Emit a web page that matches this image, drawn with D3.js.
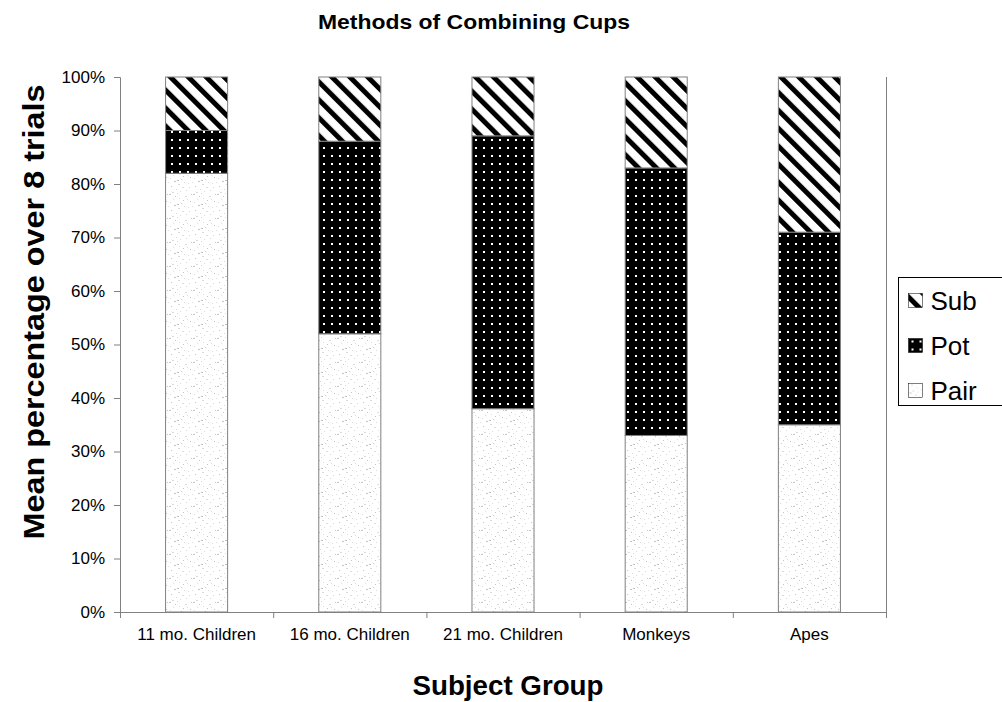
<!DOCTYPE html>
<html>
<head>
<meta charset="utf-8">
<script src="https://cdn.jsdelivr.net/npm/d3@7"></script>
<style>
  body { margin: 0; background: #fff; }
  svg { font-family: "Liberation Sans", Arial, sans-serif; }
</style>
</head>
<body>
<script>
// data (percent of trials)
var groups = ["11 mo. Children", "16 mo. Children", "21 mo. Children", "Monkeys", "Apes"];
var pair = [82, 52, 38, 33, 35];
var pot  = [8, 36, 51, 50, 36];
var sub  = [10, 12, 11, 17, 29];
var keys = ["Pair", "Pot", "Sub"];
var yTicks = [0, 10, 20, 30, 40, 50, 60, 70, 80, 90, 100];

var width = 1002, height = 702;
var plotLeft = 120, plotRight = 886, plotTop = 77, plotBottom = 612;

var svg = d3.select("body").append("svg").attr("width", width).attr("height", height);
var defs = svg.append("defs");

// Sub: diagonal black stripes
var pSub = defs.append("pattern").attr("id", "pSub").attr("patternUnits", "userSpaceOnUse")
  .attr("width", 12.7).attr("height", 12.7).attr("patternTransform", "rotate(-45)");
pSub.append("rect").attr("width", 12.7).attr("height", 12.7).attr("fill", "#fff");
pSub.append("rect").attr("width", 5).attr("height", 12.7).attr("fill", "#000");

// Pot: black with white dots
var pPot = defs.append("pattern").attr("id", "pPot").attr("patternUnits", "userSpaceOnUse")
  .attr("width", 8).attr("height", 8);
pPot.append("rect").attr("width", 8).attr("height", 8).attr("fill", "#000");
pPot.append("rect").attr("x", 3).attr("y", 3).attr("width", 2).attr("height", 2).attr("fill", "#fff");

// Pair: light grey speckle
var specks = [[1,2],[5,7],[9,1],[13,11],[17,4],[20,15],[3,18],[8,21],[14,19],[22,9],
              [11,6],[18,22],[6,13],[2,10],[16,14],[23,2],[10,16],[19,7],[7,4],[12,23],
              [4,0],[15,8],[21,19],[0,14],[9,12]];
var pPair = defs.append("pattern").attr("id", "pPair").attr("patternUnits", "userSpaceOnUse")
  .attr("width", 24).attr("height", 24);
pPair.append("rect").attr("width", 24).attr("height", 24).attr("fill", "#fff");
pPair.selectAll(".s").data(specks).enter().append("rect")
  .attr("x", function (d) { return d[0]; })
  .attr("y", function (d) { return d[1]; })
  .attr("width", function (d, i) { return i % 4 ? 1 : 2; }).attr("height", 1)
  .attr("fill", function (d, i) { return i % 3 ? "#dcdcdc" : "#c4c4c4"; });

var fills = { Pair: "url(#pPair)", Pot: "url(#pPot)", Sub: "url(#pSub)" };

var x = d3.scaleBand().domain(groups).range([plotLeft, plotRight]).paddingInner(0.595).paddingOuter(0.2975);
var y = d3.scaleLinear().domain([0, 100]).range([plotBottom, plotTop]);

var rows = groups.map(function (g, i) {
  return { group: g, Pair: pair[i], Pot: pot[i], Sub: sub[i] };
});
var series = d3.stack().keys(keys)(rows);

// right frame line
svg.append("line").attr("x1", plotRight + 0.5).attr("x2", plotRight + 0.5)
  .attr("y1", plotTop).attr("y2", plotBottom + 6)
  .attr("stroke", "#808080");

svg.append("g").selectAll("g").data(series).enter().append("g")
  .attr("fill", function (d) { return fills[d.key]; })
  .selectAll("rect").data(function (d) { return d; }).enter().append("rect")
  .attr("x", function (d) { return x(d.data.group); })
  .attr("y", function (d) { return y(d[1]); })
  .attr("width", x.bandwidth())
  .attr("height", function (d) { return y(d[0]) - y(d[1]); })
  .attr("stroke", "#808080").attr("stroke-width", 1);

// y axis
var ya = svg.append("g").attr("transform", "translate(" + plotLeft + ",0)")
  .call(d3.axisLeft(y).tickValues(yTicks).tickSizeOuter(0).tickSize(6).tickPadding(9)
    .tickFormat(function (d) { return d + "%"; }));
ya.select(".domain").attr("stroke", "#808080");
ya.selectAll(".tick line").attr("stroke", "#808080");
ya.selectAll("text").attr("font-size", 17).attr("fill", "#000").style("font-family", "Liberation Sans, Arial, sans-serif");

// x axis
var xa = svg.append("g").attr("transform", "translate(0," + plotBottom + ")")
  .call(d3.axisBottom(x).tickSize(0).tickPadding(16));
xa.select(".domain").attr("stroke", "#808080").attr("d", "M" + (plotLeft - 3) + ",0.5H" + plotRight);
xa.selectAll("text").attr("font-size", 17).attr("fill", "#000").style("font-family", "Liberation Sans, Arial, sans-serif");
var bounds = groups.map(function (g) { return x(g) - x.step() * x.paddingOuter(); });
bounds.push(plotRight);
xa.selectAll(".bnd").data(bounds).enter().append("line")
  .attr("x1", function (d) { return d + 0.5; }).attr("x2", function (d) { return d + 0.5; })
  .attr("y1", 0).attr("y2", 6).attr("stroke", "#808080");

// titles
svg.append("text").attr("x", 474).attr("y", 29).attr("text-anchor", "middle")
  .attr("font-size", 21).attr("font-weight", "bold")
  .attr("textLength", 312).attr("lengthAdjust", "spacingAndGlyphs")
  .text("Methods of Combining Cups");

svg.append("text").attr("x", 508).attr("y", 695).attr("text-anchor", "middle")
  .attr("font-size", 28).attr("font-weight", "bold")
  .attr("textLength", 191).attr("lengthAdjust", "spacingAndGlyphs")
  .text("Subject Group");

svg.append("text").attr("transform", "translate(44,312) rotate(-90)").attr("text-anchor", "middle")
  .attr("font-size", 30).attr("font-weight", "bold")
  .attr("textLength", 455).attr("lengthAdjust", "spacingAndGlyphs")
  .text("Mean percentage over 8 trials");

// legend
var lg = svg.append("g").attr("transform", "translate(898.5,277.5)");
lg.append("rect").attr("width", 110).attr("height", 128).attr("fill", "#fff").attr("stroke", "#000");
var items = keys.slice().reverse();
var li = lg.selectAll(".li").data(items).enter().append("g")
  .attr("transform", function (d, i) { return "translate(10," + (23 + i * 45) + ")"; });
li.append("rect").attr("x", 0).attr("y", -7).attr("width", 14).attr("height", 14)
  .attr("fill", function (d) { return fills[d]; }).attr("stroke", "#000").attr("stroke-width", 0.5);
li.append("text").attr("x", 22).attr("y", 0).attr("dy", "0.36em").attr("font-size", 26)
  .text(function (d) { return d; });
</script>
</body>
</html>
